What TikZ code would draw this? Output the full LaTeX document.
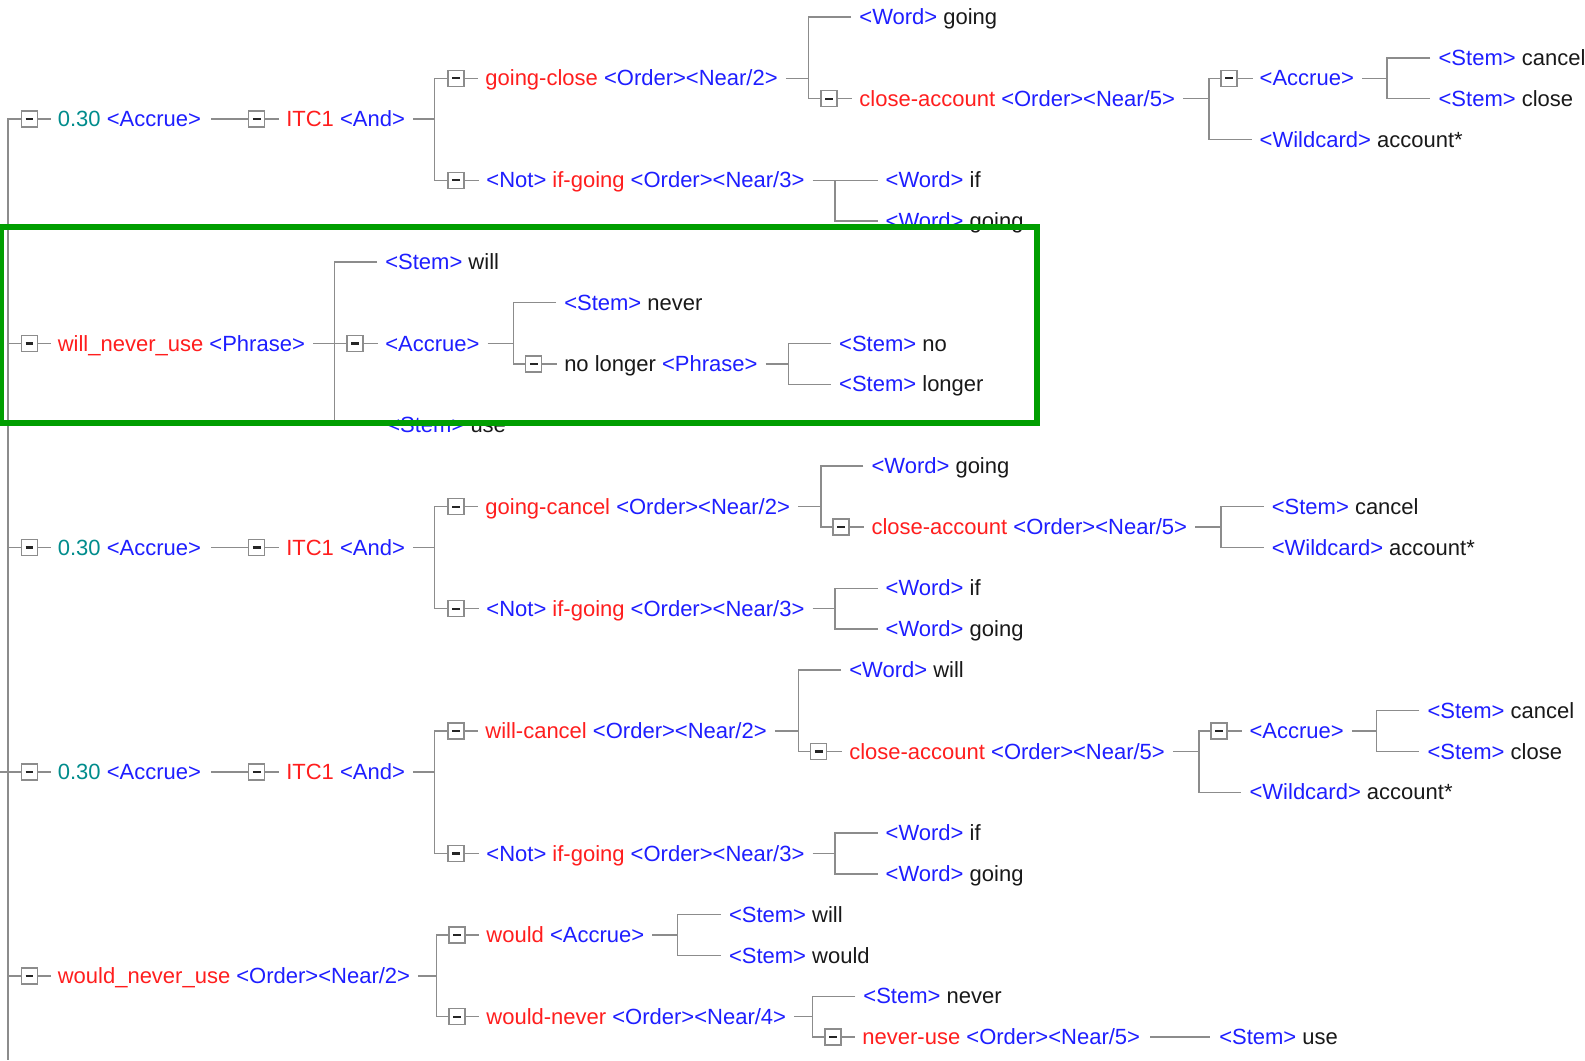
\documentclass[tikz,border=0pt]{standalone}
\usepackage{fontspec}
\setmainfont{Liberation Sans}
\definecolor{tred}{RGB}{255,30,30}
\definecolor{tblue}{RGB}{30,30,255}
\definecolor{tteal}{RGB}{0,140,140}
\definecolor{tink}{RGB}{25,25,25}
\definecolor{tline}{RGB}{140,140,140}
\definecolor{tgreen}{RGB}{0,158,0}

% row centres of the tree listing
\newcommand{\ry}[1]{{17+20.18*#1}}
% coloured parts of a label
\newcommand{\rd}[1]{\textcolor{tred}{#1}}
\newcommand{\bl}[1]{\textcolor{tblue}{#1}}
\newcommand{\tl}[1]{\textcolor{tteal}{#1}}
% connectors
\newcommand{\up}[2]{\draw[conn] ([xshift=8pt]#1.east) -- (#2);}
\newcommand{\fork}[3]{\draw[conn] (#2) -| (#1) |- (#3);}
\newcommand{\stub}[2]{\draw[conn] (#1.east) -- ([xshift=-7pt]#2.west);}

\begin{document}
\begin{tikzpicture}[x=1.0108pt, y=-1.0108pt,
  txt/.style={anchor=west, inner sep=0pt, text height=15pt, text depth=0pt,
              font=\fontsize{22}{24}\selectfont, text=tink},
  conn/.style={draw=tline, line width=1.4pt},
  mbox/.style={draw=tline, line width=1.4pt, fill=white, minimum size=16pt,
               inner sep=0pt,
               path picture={\draw[line width=2.2pt, black!85]
                 ([xshift=-3.8pt]path picture bounding box.center) --
                 ([xshift=3.8pt]path picture bounding box.center);}},
  frame/.style={draw=tgreen, line width=5.5pt}]

\clip (0,0) rectangle (1568,1049);
\fill[white] (0,0) rectangle (1568,1049);

% ---------- root spine ----------
\coordinate (rootBot) at (8,1049);
\coordinate (rootIn) at (0,\ry{37});

% ---------- first branch: going-close ----------
\node[txt] (t1a) at (57,\ry{5}) {\tl{0.30} \bl{<Accrue>}};
\node[txt] (t1b) at (283,\ry{5}) {\rd{ITC1} \bl{<And>}};
\coordinate (j1b) at (430,\ry{5});
\node[txt] (t1c) at (480,\ry{3}) {\rd{going-close} \bl{<Order><Near/2>}};
\node[txt] (t1d) at (481,\ry{8}) {\bl{<Not>} \rd{if-going} \bl{<Order><Near/3>}};
\coordinate (j1c) at (800,\ry{3});
\node[txt] (t1e) at (850,\ry{0}) {\bl{<Word>} going};
\node[txt] (t1f) at (850,\ry{4}) {\rd{close-account} \bl{<Order><Near/5>}};
\coordinate (j1f) at (1196,\ry{4});
\node[txt] (t1g) at (1246,\ry{3}) {\bl{<Accrue>}};
\coordinate (j1g) at (1372,\ry{3});
\node[txt] (t1h) at (1423,\ry{2}) {\bl{<Stem>} cancel};
\node[txt] (t1i) at (1423,\ry{4}) {\bl{<Stem>} close};
\node[txt] (t1j) at (1246,\ry{6}) {\bl{<Wildcard>} account*};
\coordinate (j1d) at (826,\ry{8});
\node[txt] (t1k) at (876,\ry{8}) {\bl{<Word>} if};
\node[txt] (t1l) at (876,\ry{10}) {\bl{<Word>} going};

% ---------- second branch: will_never_use ----------
\node[txt] (t2a) at (57,\ry{16}) {\rd{will\_never\_use} \bl{<Phrase>}};
\coordinate (j2a) at (331,\ry{16});
\node[txt] (t2b) at (381,\ry{12}) {\bl{<Stem>} will};
\node[txt] (t2c) at (381,\ry{16}) {\bl{<Accrue>}};
\node[txt] (t2d) at (383,\ry{20}) {\bl{<Stem>} use};
\coordinate (j2c) at (508,\ry{16});
\node[txt] (t2e) at (558,\ry{14}) {\bl{<Stem>} never};
\node[txt] (t2f) at (558,\ry{17}) {no longer \bl{<Phrase>}};
\coordinate (j2f) at (780,\ry{17});
\node[txt] (t2g) at (830,\ry{16}) {\bl{<Stem>} no};
\node[txt] (t2h) at (830,\ry{18}) {\bl{<Stem>} longer};

% ---------- third branch: going-cancel ----------
\node[txt] (t3a) at (57,\ry{26}) {\tl{0.30} \bl{<Accrue>}};
\node[txt] (t3b) at (283,\ry{26}) {\rd{ITC1} \bl{<And>}};
\coordinate (j3b) at (430,\ry{26});
\node[txt] (t3c) at (480,\ry{24}) {\rd{going-cancel} \bl{<Order><Near/2>}};
\node[txt] (t3d) at (481,\ry{29}) {\bl{<Not>} \rd{if-going} \bl{<Order><Near/3>}};
\coordinate (j3c) at (812,\ry{24});
\node[txt] (t3e) at (862,\ry{22}) {\bl{<Word>} going};
\node[txt] (t3f) at (862,\ry{25}) {\rd{close-account} \bl{<Order><Near/5>}};
\coordinate (j3f) at (1208,\ry{25});
\node[txt] (t3g) at (1258,\ry{24}) {\bl{<Stem>} cancel};
\node[txt] (t3h) at (1258,\ry{26}) {\bl{<Wildcard>} account*};
\coordinate (j3d) at (826,\ry{29});
\node[txt] (t3i) at (876,\ry{28}) {\bl{<Word>} if};
\node[txt] (t3j) at (876,\ry{30}) {\bl{<Word>} going};

% ---------- fourth branch: will-cancel ----------
\node[txt] (t4a) at (57,\ry{37}) {\tl{0.30} \bl{<Accrue>}};
\node[txt] (t4b) at (283,\ry{37}) {\rd{ITC1} \bl{<And>}};
\coordinate (j4b) at (430,\ry{37});
\node[txt] (t4c) at (480,\ry{35}) {\rd{will-cancel} \bl{<Order><Near/2>}};
\node[txt] (t4d) at (481,\ry{41}) {\bl{<Not>} \rd{if-going} \bl{<Order><Near/3>}};
\coordinate (j4c) at (790,\ry{35});
\node[txt] (t4e) at (840,\ry{32}) {\bl{<Word>} will};
\node[txt] (t4f) at (840,\ry{36}) {\rd{close-account} \bl{<Order><Near/5>}};
\coordinate (j4f) at (1186,\ry{36});
\node[txt] (t4g) at (1236,\ry{35}) {\bl{<Accrue>}};
\coordinate (j4g) at (1362,\ry{35});
\node[txt] (t4h) at (1412,\ry{34}) {\bl{<Stem>} cancel};
\node[txt] (t4i) at (1412,\ry{36}) {\bl{<Stem>} close};
\node[txt] (t4j) at (1236,\ry{38}) {\bl{<Wildcard>} account*};
\coordinate (j4d) at (826,\ry{41});
\node[txt] (t4k) at (876,\ry{40}) {\bl{<Word>} if};
\node[txt] (t4l) at (876,\ry{42}) {\bl{<Word>} going};

% ---------- fifth branch: would_never_use ----------
\node[txt] (t5a) at (57,\ry{47}) {\rd{would\_never\_use} \bl{<Order><Near/2>}};
\coordinate (j5a) at (432,\ry{47});
\node[txt] (t5b) at (481,\ry{45}) {\rd{would} \bl{<Accrue>}};
\coordinate (j5b) at (670,\ry{45});
\node[txt] (t5c) at (721,\ry{44}) {\bl{<Stem>} will};
\node[txt] (t5d) at (721,\ry{46}) {\bl{<Stem>} would};
\node[txt] (t5e) at (481,\ry{49}) {\rd{would-never} \bl{<Order><Near/4>}};
\coordinate (j5e) at (804,\ry{49});
\node[txt] (t5f) at (854,\ry{48}) {\bl{<Stem>} never};
\node[txt] (t5g) at (853,\ry{50}) {\rd{never-use} \bl{<Order><Near/5>}};
\node[txt] (t5h) at (1206,\ry{50}) {\bl{<Stem>} use};

% ---------- expander boxes ----------
\foreach \bn/\bx/\br in {b1a/29/5, b1b/254/5, b1c/451/3, b1d/451/8, b1f/820/4, b1g/1216/3,
                      b2a/29/16, b2c/351/16, b2f/528/17,
                      b3a/29/26, b3b/254/26, b3c/451/24, b3d/451/29, b3f/832/25,
                      b4a/29/37, b4b/254/37, b4c/451/35, b4d/451/41, b4f/810/36, b4g/1206/35,
                      b5a/29/47, b5b/452/45, b5e/452/49, b5g/824/50}
  {\node[mbox] (\bn) at (\bx,\ry{\br}) {};}

% ---------- connectors ----------
% spine
\draw[conn] (b1a.west) -| (rootBot);
\draw[conn] (rootBot |- b2a) -- (b2a.west);
\draw[conn] (rootBot |- b3a) -- (b3a.west);
\draw[conn] (rootIn) -- (b4a.west);
\draw[conn] (rootBot |- b5a) -- (b5a.west);

% box stubs
\foreach \sb/\st in {b1a/t1a, b1b/t1b, b1c/t1c, b1d/t1d, b1f/t1f, b1g/t1g,
                   b2a/t2a, b2c/t2c, b2f/t2f,
                   b3a/t3a, b3b/t3b, b3c/t3c, b3d/t3d, b3f/t3f,
                   b4a/t4a, b4b/t4b, b4c/t4c, b4d/t4d, b4f/t4f, b4g/t4g,
                   b5a/t5a, b5b/t5b, b5e/t5e, b5g/t5g}
  {\stub{\sb}{\st}}

% branch 1
\draw[conn] ([xshift=10pt]t1a.east) -- (b1b.west);
\up{t1b}{j1b} \fork{j1b}{b1c.west}{b1d.west}
\up{t1c}{j1c} \fork{j1c}{[xshift=-8pt]t1e.west}{b1f.west}
\up{t1f}{j1f} \fork{j1f}{b1g.west}{[xshift=-8pt]t1j.west}
\up{t1g}{j1g} \fork{j1g}{[xshift=-8pt]t1h.west}{[xshift=-8pt]t1i.west}
\up{t1d}{j1d} \fork{j1d}{[xshift=-8pt]t1k.west}{[xshift=-8pt]t1l.west}

% branch 2
\up{t2a}{j2a} \fork{j2a}{[xshift=-8pt]t2b.west}{[xshift=-8pt]t2d.west}
\draw[conn] (j2a) -- (b2c.west);
\up{t2c}{j2c} \fork{j2c}{[xshift=-8pt]t2e.west}{b2f.west}
\up{t2f}{j2f} \fork{j2f}{[xshift=-8pt]t2g.west}{[xshift=-8pt]t2h.west}

% branch 3
\draw[conn] ([xshift=10pt]t3a.east) -- (b3b.west);
\up{t3b}{j3b} \fork{j3b}{b3c.west}{b3d.west}
\up{t3c}{j3c} \fork{j3c}{[xshift=-8pt]t3e.west}{b3f.west}
\up{t3f}{j3f} \fork{j3f}{[xshift=-8pt]t3g.west}{[xshift=-8pt]t3h.west}
\up{t3d}{j3d} \fork{j3d}{[xshift=-8pt]t3i.west}{[xshift=-8pt]t3j.west}

% branch 4
\draw[conn] ([xshift=10pt]t4a.east) -- (b4b.west);
\up{t4b}{j4b} \fork{j4b}{b4c.west}{b4d.west}
\up{t4c}{j4c} \fork{j4c}{[xshift=-8pt]t4e.west}{b4f.west}
\up{t4f}{j4f} \fork{j4f}{b4g.west}{[xshift=-8pt]t4j.west}
\up{t4g}{j4g} \fork{j4g}{[xshift=-8pt]t4h.west}{[xshift=-8pt]t4i.west}
\up{t4d}{j4d} \fork{j4d}{[xshift=-8pt]t4k.west}{[xshift=-8pt]t4l.west}

% branch 5
\up{t5a}{j5a} \fork{j5a}{b5b.west}{b5e.west}
\up{t5b}{j5b} \fork{j5b}{[xshift=-8pt]t5c.west}{[xshift=-8pt]t5d.west}
\up{t5e}{j5e} \fork{j5e}{[xshift=-8pt]t5f.west}{b5g.west}
\draw[conn] ([xshift=10pt]t5g.east) -- ([xshift=-9pt]t5h.west);

% highlight frame around the will_never_use branch
\draw[frame] (1.5,224.6) rectangle (1026,418.5);
\end{tikzpicture}
\end{document}
